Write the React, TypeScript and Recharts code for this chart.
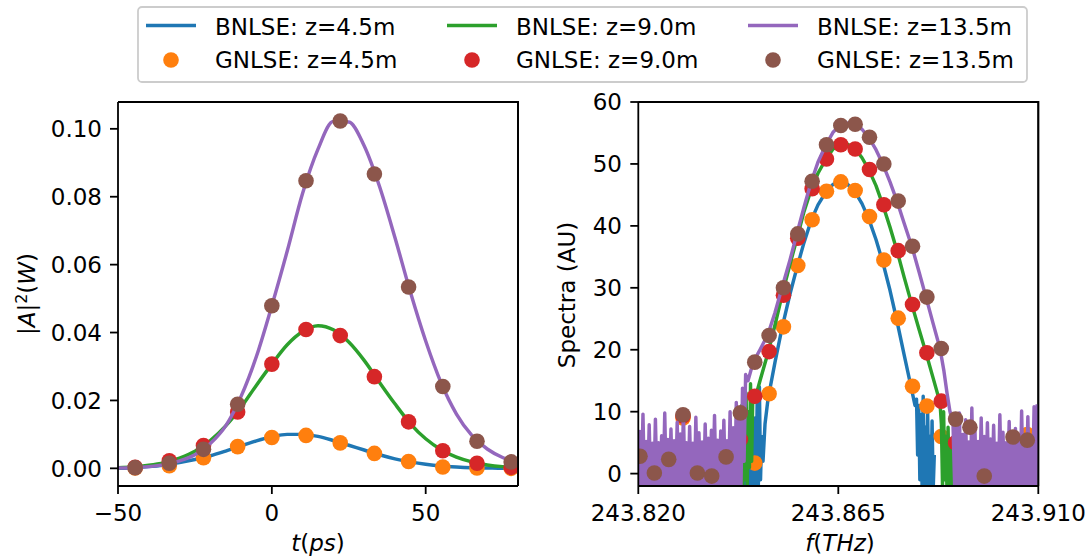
import React from 'react';
import { ComposedChart, Line, Scatter, XAxis, YAxis, Customized } from 'recharts';

const FONT = "'DejaVu Sans', sans-serif";
const FS = 23;
const BLUE = '#1f77b4';
const ORANGE = '#ff7f0e';
const GREEN = '#2ca02c';
const RED = '#d62728';
const PURPLE = '#9467bd';
const BROWN = '#8c564b';

// ---------- time domain: |A|^2 (W) versus t (ps) ----------
const timeGrid = [-50, -45, -40, -35, -30, -25, -20, -15, -10, -5, 0, 5, 10, 15, 20, 25, 30, 35, 40, 45, 50, 55, 60, 65, 70, 75, 80];
const bnlsePower45 = [0.0, 0.0002, 0.0005, 0.001, 0.0017, 0.0026, 0.0037, 0.0051, 0.0066, 0.0081, 0.0093, 0.01, 0.01, 0.0094, 0.0082, 0.0068, 0.0054, 0.004, 0.0028, 0.0019, 0.0012, 0.0007, 0.0004, 0.0002, 0.0001, 0.0, 0.0];
const bnlsePower90 = [0.0002, 0.0004, 0.0009, 0.0017, 0.003, 0.005, 0.0082, 0.0125, 0.018, 0.0245, 0.0307, 0.0364, 0.0403, 0.042, 0.0408, 0.0372, 0.0318, 0.0253, 0.019, 0.0132, 0.0087, 0.0055, 0.0033, 0.0019, 0.001, 0.0005, 0.0003];
const bnlsePower135 = [0.0001, 0.0002, 0.0005, 0.0011, 0.0022, 0.004, 0.0073, 0.0125, 0.0212, 0.033, 0.0479, 0.064, 0.081, 0.094, 0.1022, 0.102, 0.095, 0.083, 0.068, 0.052, 0.0375, 0.0252, 0.016, 0.0097, 0.0057, 0.0032, 0.0017];

const gnlseTime = [-44.44, -33.33, -22.22, -11.11, 0, 11.11, 22.22, 33.33, 44.44, 55.56, 66.67, 77.78];
const gnlsePower45 = [0.0001, 0.0008, 0.0031, 0.0064, 0.0091, 0.0097, 0.0075, 0.0044, 0.002, 0.0004, 0.0001, 0.0];
const gnlsePower90 = [0.0003, 0.0022, 0.0067, 0.0166, 0.0307, 0.0409, 0.0391, 0.027, 0.0137, 0.0052, 0.0015, 0.0003];
const gnlsePower135 = [0.0002, 0.0015, 0.0056, 0.0189, 0.0479, 0.0847, 0.1023, 0.0867, 0.0534, 0.0241, 0.008, 0.0019];

const timeDomain = [-50, 80];
const powerDomain = [-0.0052, 0.1079];
const timeTicks = [-50, 0, 50];
const powerTicks = [0, 0.02, 0.04, 0.06, 0.08, 0.1];

// ---------- spectral domain: Spectra (AU) versus f (THz) ----------
const gnlseFreq = [
  243.82038, 243.82361, 243.82684, 243.83006, 243.83329, 243.83652, 243.83975, 243.84297,
  243.8462, 243.84943, 243.85266, 243.85588, 243.85911, 243.86234, 243.86557, 243.86879,
  243.87202, 243.87525, 243.87848, 243.8817, 243.88493, 243.88816, 243.89139, 243.89461,
  243.89784, 243.90107, 243.9043, 243.90752,
];
const gnlseSpec45 = [null, null, null, 9.0, null, null, null, null, 1.7, 12.9, 23.7, 33.6, 41.0, 45.6, 47.1, 45.7, 41.5, 34.5, 25.1, 14.1, 10.9, 6.0, null, null, null, null, null, 6.3];
const gnlseSpec90 = [null, null, null, 9.3, null, null, null, 5.5, 12.5, 19.7, 28.8, 38.0, 46.0, 50.8, 53.1, 52.4, 49.1, 43.4, 36.0, 27.3, 19.5, 11.7, 5.0, null, null, null, null, null];
const gnlseSpec135 = [2.8, 0.1, 2.3, 9.5, 0.1, -0.4, 2.7, 9.8, 18.0, 22.3, 30.0, 38.7, 47.2, 53.1, 56.2, 56.4, 54.3, 50.0, 44.0, 36.7, 28.5, 20.2, 8.8, 7.5, -0.4, null, 5.9, 5.4];

// BNLSE z=4.5m: noisy floor on both flanks, smooth main lobe in between
const bnlseSpec45FloorLo = { start: 243.844, step: 0.00025, values: [-2.5, 3.0, -2.5, 5.0, -2.5, 4.0, -2.5, 7.5, -2.5, 9.0, -2.0, 12.0, -2.5, 14.0, -1.0, 6.0] };
const bnlseSpec45Freq = [243.84806, 243.84851, 243.84918, 243.85076, 243.85233, 243.85413, 243.85571, 243.85728, 243.85886, 243.86043, 243.86223, 243.86381, 243.86538, 243.86696, 243.86876, 243.87033, 243.87191, 243.87348, 243.87506, 243.87663, 243.87821, 243.87978, 243.88113, 243.88226];
const bnlseSpec45Main = [2, 8, 12, 18, 23.5, 29, 33.3, 37.3, 40.8, 43.4, 45.5, 46.7, 47.1, 46.8, 45.5, 43.6, 41.0, 37.8, 34.0, 29.6, 24.6, 19.3, 14.8, 11];
const bnlseSpec45FloorHi = { start: 243.8826, step: 0.00025, values: [12.0, 3.0, 11.0, -1.0, 9.5, -2.0, 12.5, -2.5, 7.5, -2.5, 10.0, -2.5, 6.0, -2.5, 8.5, -2.5, 3.0] };

// BNLSE z=9.0m
const bnlseSpec90FloorLo = { start: 243.841, step: 0.00025, values: [-2.5, 5.5, -2.5, 7.0, -2.5, 9.5, -2.5, 6.0, -2.0, 11.0, -2.5, 8.5, -1.0, 13.0, -2.0, 10.0, 1.0, 14.5, 2.0, 12.0] };
const bnlseSpec90Freq = [243.84603, 243.84738, 243.84918, 243.85076, 243.85233, 243.85413, 243.85571, 243.85728, 243.85886, 243.86043, 243.86223, 243.86381, 243.86538, 243.86696, 243.86876, 243.87033, 243.87191, 243.87348, 243.87506, 243.87663, 243.87821, 243.87978, 243.88158, 243.88316, 243.88473, 243.88631, 243.88788];
const bnlseSpec90Main = [11.5, 15, 19.5, 24, 28.8, 33.8, 38.0, 42.3, 45.8, 48.5, 50.8, 52.4, 53.1, 53.2, 52.5, 51.0, 49.0, 46.5, 43.3, 39.8, 36.0, 31.8, 27.2, 23.3, 19.5, 15.5, 11.5];
const bnlseSpec90FloorHi = { start: 243.8882, step: 0.00025, values: [8.0, -2.0, 10.0, -1.0, 6.0, -2.5, 7.5, -2.5, 4.0, -2.5, 5.5, -2.5, 2.0, -2.5] };

// BNLSE z=13.5m
const bnlseSpec135FloorLo = {
  start: 243.82,
  step: 0.00035,
  values: [
    -2.5, 6.8, -2.2, 9.6, -2.8, 5.2, -2.4, 7.9, -2.1, 4.9, -2.6, 8.8, -2.3, 5.0, -2.7, 6.1, -2.2, 9.8, -2.5, 5.5,
    -2.1, 7.2, -2.9, 5.3, -2.4, 8.3, -2.2, 6.4, -2.6, 10.2, -2.3, 5.0, -2.5, 7.6, -2.1, 4.9, -2.7, 9.1, -2.2, 6.6,
    -2.4, 5.1, -2.8, 8.0, -2.3, 5.7, -2.5, 7.0, -2.1, 9.4, -2.6, 5.4, -2.2, 6.9, -2.4, 8.6, -2.7, 5.3, -2.3, 10.0,
    -2.5, 7.4, -2.2, 11.5, -2.6, 9.0, -2.1, 13.8, 2.0, 16.0,
  ],
};
const bnlseSpec135Freq = [243.84468, 243.84587, 243.84738, 243.84918, 243.85076, 243.85233, 243.85413, 243.85571, 243.85728, 243.85886, 243.86043, 243.86223, 243.86381, 243.86538, 243.86696, 243.86876, 243.87033, 243.87191, 243.87348, 243.87506, 243.87663, 243.87821, 243.87978, 243.88158, 243.88316, 243.88473, 243.88631, 243.88788, 243.88878, 243.88946, 243.89013, 243.89081];
const bnlseSpec135Main = [15, 18, 20, 22.5, 26, 30, 34.5, 38.8, 43, 47, 50.3, 53.1, 55.1, 56.2, 56.6, 56.4, 55.6, 54.2, 52.3, 49.9, 47.1, 44.0, 40.5, 36.6, 32.6, 28.5, 24.3, 20.2, 16.5, 13, 10, 8];
const bnlseSpec135FloorHi = {
  start: 243.8912,
  step: 0.00035,
  values: [
    -2.4, 7.5, -2.2, 9.8, -2.6, 6.3, -2.3, 8.7, -2.1, 5.1, -2.7, 10.6, -2.2, 7.0, -2.5, 5.2, -2.3, 9.0, -2.8, 6.0,
    -2.1, 8.2, -2.4, 5.6, -2.6, 7.8, -2.2, 4.9, -2.5, 9.5, -2.3, 6.7, -2.1, 5.0, -2.7, 8.4, -2.2, 5.9, -2.4, 7.3,
    -2.6, 5.3, -2.3, 10.1, -2.5, 6.2, -2.1, 9.2, -2.4, 5.4, -2.2, 10.8, -2.6, 11.2,
  ],
};

const freqDomain = [243.82, 243.91];
const specDomain = [-2, 60];
const freqTicks = [243.82, 243.865, 243.91];
const specTicks = [0, 10, 20, 30, 40, 50, 60];

// ---------- helpers that build {x, y} rows from the arrays above ----------
type Pt = { x: number; y: number };
const zip = (xs: number[], ys: (number | null)[]): Pt[] =>
  xs.map((x, i) => ({ x, y: ys[i] as number })).filter((p) => p.y !== null && p.y !== undefined);
const floor = (seg: { start: number; step: number; values: number[] }): Pt[] =>
  seg.values.map((y, i) => ({ x: seg.start + i * seg.step, y }));

const timeRows45 = zip(timeGrid, bnlsePower45);
const timeRows90 = zip(timeGrid, bnlsePower90);
const timeRows135 = zip(timeGrid, bnlsePower135);
const timeDots45 = zip(gnlseTime, gnlsePower45);
const timeDots90 = zip(gnlseTime, gnlsePower90);
const timeDots135 = zip(gnlseTime, gnlsePower135);

const specRows45 = [...floor(bnlseSpec45FloorLo), ...zip(bnlseSpec45Freq, bnlseSpec45Main), ...floor(bnlseSpec45FloorHi)];
const specRows90 = [...floor(bnlseSpec90FloorLo), ...zip(bnlseSpec90Freq, bnlseSpec90Main), ...floor(bnlseSpec90FloorHi)];
const specRows135 = [...floor(bnlseSpec135FloorLo), ...zip(bnlseSpec135Freq, bnlseSpec135Main), ...floor(bnlseSpec135FloorHi)];
const specDots45 = zip(gnlseFreq, gnlseSpec45);
const specDots90 = zip(gnlseFreq, gnlseSpec90);
const specDots135 = zip(gnlseFreq, gnlseSpec135);

const legendEntries = [
  { line: BLUE, dot: ORANGE, z: '4.5' },
  { line: GREEN, dot: RED, z: '9.0' },
  { line: PURPLE, dot: BROWN, z: '13.5' },
];

// ---------- layout ----------
const W = 1092;
const H = 558;
const LW = 3.45;
const R = 7.8;
const SPINE = 1.8;
const textStyle = { fontFamily: FONT, fontSize: FS, fill: '#000' };

const minus = (s: string) => s.replace('-', '\u2212');

const XTick = (props: any) => {
  const { x, payload, fmt } = props;
  return (
    <text x={x} y={521} textAnchor="middle" style={textStyle}>
      {fmt(payload.value)}
    </text>
  );
};

const YTick = (props: any) => {
  const { y, payload, fmt, right } = props;
  return (
    <text x={right} y={y + 8.4} textAnchor="end" style={textStyle}>
      {fmt(payload.value)}
    </text>
  );
};

const Dot = (color: string) => (p: any) =>
  p.cx == null || p.cy == null ? <g /> : <circle cx={p.cx} cy={p.cy} r={R} fill={color} />;

const TimeTitle = () => (
  <text x={318} y={551} textAnchor="middle" style={textStyle}>
    <tspan fontStyle="italic">t</tspan>
    <tspan>(</tspan>
    <tspan fontStyle="italic">ps</tspan>
    <tspan>)</tspan>
  </text>
);

const PowerTitle = () => (
  <text x={35} y={294} textAnchor="middle" transform="rotate(-90 35 294)" style={textStyle}>
    <tspan>|</tspan>
    <tspan fontStyle="italic">A</tspan>
    <tspan>|</tspan>
    <tspan fontSize={16} dy={-8}>2</tspan>
    <tspan dy={8}>(</tspan>
    <tspan fontStyle="italic">W</tspan>
    <tspan>)</tspan>
  </text>
);

const FreqTitle = () => (
  <text x={840} y={551} textAnchor="middle" style={textStyle}>
    <tspan fontStyle="italic">f</tspan>
    <tspan>(</tspan>
    <tspan fontStyle="italic">THz</tspan>
    <tspan>)</tspan>
  </text>
);

const SpecTitle = () => (
  <text x={575} y={295} textAnchor="middle" transform="rotate(-90 575 295)" style={textStyle}>
    Spectra (AU)
  </text>
);

// top and right edges of an axes box
const LeftBoxEdges = () => <path d="M118 102 H518 V486" fill="none" stroke="#000" strokeWidth={SPINE} />;
const RightBoxEdges = () => <path d="M638.3 102 H1038.3 V486" fill="none" stroke="#000" strokeWidth={SPINE} />;

const spine = { stroke: '#000', strokeWidth: SPINE };

const layer: React.CSSProperties = { position: 'absolute', left: 0, top: 0 };

export default function App() {
  return (
    <div style={{ position: 'absolute', left: 0, top: 0, width: W, height: H, background: '#fff', overflow: 'hidden' }}>
      {/* time domain panel */}
      <div style={{ ...layer, zIndex: 1 }}>
        <ComposedChart width={W} height={H} margin={{ top: 102, right: 574, bottom: 0, left: 0 }}>
          <XAxis
            xAxisId="t"
            dataKey="x"
            type="number"
            domain={timeDomain}
            allowDataOverflow
            ticks={timeTicks}
            interval={0}
            height={72}
            tickSize={8}
            axisLine={spine}
            tickLine={spine}
            tick={<XTick fmt={(v: number) => minus(String(v))} />}
            label={<TimeTitle />}
          />
          <YAxis
            yAxisId="p"
            type="number"
            domain={powerDomain}
            allowDataOverflow
            ticks={powerTicks}
            interval={0}
            width={118}
            tickSize={8}
            axisLine={spine}
            tickLine={spine}
            tick={<YTick right={102} fmt={(v: number) => v.toFixed(2)} />}
            label={<PowerTitle />}
          />
          <Line xAxisId="t" yAxisId="p" data={timeRows45} dataKey="y" type="monotone" stroke={BLUE} strokeWidth={LW} dot={false} activeDot={false} isAnimationActive={false} zIndex={401} />
          <Scatter xAxisId="t" yAxisId="p" data={timeDots45} dataKey="y" shape={Dot(ORANGE)} isAnimationActive={false} zIndex={402} />
          <Line xAxisId="t" yAxisId="p" data={timeRows90} dataKey="y" type="monotone" stroke={GREEN} strokeWidth={LW} dot={false} activeDot={false} isAnimationActive={false} zIndex={403} />
          <Scatter xAxisId="t" yAxisId="p" data={timeDots90} dataKey="y" shape={Dot(RED)} isAnimationActive={false} zIndex={404} />
          <Line xAxisId="t" yAxisId="p" data={timeRows135} dataKey="y" type="monotone" stroke={PURPLE} strokeWidth={LW} dot={false} activeDot={false} isAnimationActive={false} zIndex={405} />
          <Scatter xAxisId="t" yAxisId="p" data={timeDots135} dataKey="y" shape={Dot(BROWN)} isAnimationActive={false} zIndex={406} />
          <Customized component={LeftBoxEdges} />
        </ComposedChart>
      </div>

      {/* spectral panel */}
      <div style={{ ...layer, zIndex: 2 }}>
        <ComposedChart width={W} height={H} margin={{ top: 102, right: 53.7, bottom: 0, left: 0 }}>
          <XAxis
            xAxisId="f"
            dataKey="x"
            type="number"
            domain={freqDomain}
            allowDataOverflow
            ticks={freqTicks}
            interval={0}
            height={72}
            tickSize={8}
            axisLine={spine}
            tickLine={spine}
            tick={<XTick fmt={(v: number) => v.toFixed(3)} />}
            label={<FreqTitle />}
          />
          <YAxis
            yAxisId="s"
            type="number"
            domain={specDomain}
            allowDataOverflow
            ticks={specTicks}
            interval={0}
            width={638.3}
            tickSize={8}
            axisLine={spine}
            tickLine={spine}
            tick={<YTick right={622} fmt={(v: number) => String(v)} />}
            label={<SpecTitle />}
          />
          <Line xAxisId="f" yAxisId="s" data={specRows45} dataKey="y" type="linear" stroke={BLUE} strokeWidth={LW} strokeLinejoin="round" dot={false} activeDot={false} isAnimationActive={false} zIndex={401} />
          <Scatter xAxisId="f" yAxisId="s" data={specDots45} dataKey="y" shape={Dot(ORANGE)} isAnimationActive={false} zIndex={402} />
          <Line xAxisId="f" yAxisId="s" data={specRows90} dataKey="y" type="linear" stroke={GREEN} strokeWidth={LW} strokeLinejoin="round" dot={false} activeDot={false} isAnimationActive={false} zIndex={403} />
          <Scatter xAxisId="f" yAxisId="s" data={specDots90} dataKey="y" shape={Dot(RED)} isAnimationActive={false} zIndex={404} />
          <Line xAxisId="f" yAxisId="s" data={specRows135} dataKey="y" type="linear" stroke={PURPLE} strokeWidth={LW} strokeLinejoin="round" dot={false} activeDot={false} isAnimationActive={false} zIndex={405} />
          <Scatter xAxisId="f" yAxisId="s" data={specDots135} dataKey="y" shape={Dot(BROWN)} isAnimationActive={false} zIndex={406} />
          <Customized component={RightBoxEdges} />
        </ComposedChart>
      </div>

      {/* frame edges and shared legend, drawn over both panels */}
      <svg width={W} height={H} style={{ ...layer, zIndex: 10, pointerEvents: 'none' }}>
        <LeftBoxEdges />
        <RightBoxEdges />
        <rect x={138} y={7} width={889} height={75} rx={4} fill="#fff" fillOpacity={0.8} stroke="#cccccc" strokeWidth={1.8} />
        {legendEntries.map((e, c) => {
          const x0 = 146 + c * 301;
          return (
            <g key={e.z}>
              <line x1={x0} x2={x0 + 50} y1={25.5} y2={25.5} stroke={e.line} strokeWidth={LW} />
              <text x={x0 + 69} y={34.5} style={textStyle}>{`BNLSE: z=${e.z}m`}</text>
              <circle cx={x0 + 25} cy={60} r={R} fill={e.dot} />
              <text x={x0 + 69} y={68} style={textStyle}>{`GNLSE: z=${e.z}m`}</text>
            </g>
          );
        })}
      </svg>
    </div>
  );
}
